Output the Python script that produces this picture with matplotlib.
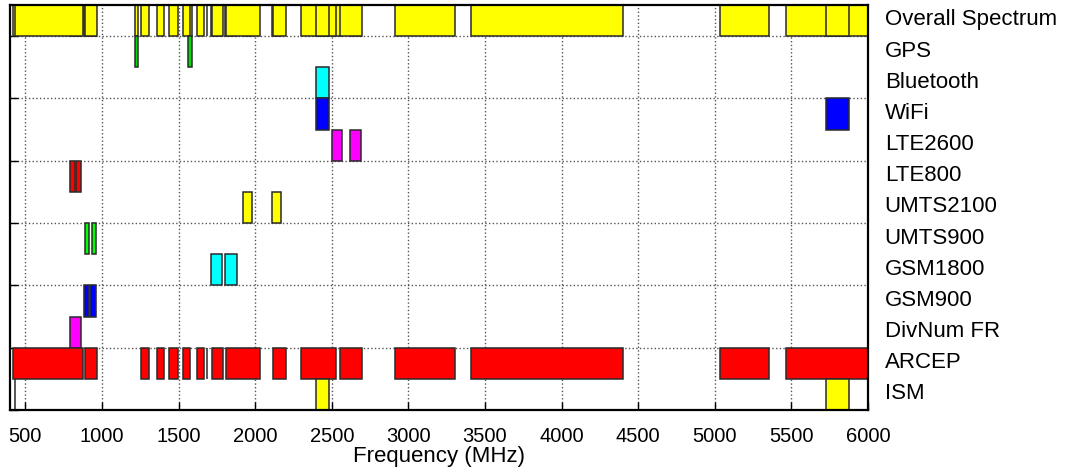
import matplotlib
matplotlib.use("Agg")
import matplotlib.pyplot as plt

plt.rcParams['font.family'] = ['Liberation Sans', 'DejaVu Sans']

# Rows from top to bottom
rows = ["Overall Spectrum", "GPS", "Bluetooth", "WiFi", "LTE2600", "LTE800",
        "UMTS2100", "UMTS900", "GSM1800", "GSM900", "DivNum FR", "ARCEP", "ISM"]

# Bands in MHz (start, stop)
gps = [(1217, 1237), (1565, 1585)]
bluetooth = [(2400, 2483.5)]
wifi = [(2400, 2483.5), (5725, 5875)]
lte2600 = [(2500, 2570), (2620, 2690)]
lte800 = [(791, 821), (832, 862)]
umts2100 = [(1920, 1980), (2110, 2170)]
umts900 = [(890, 915), (935, 960)]
gsm1800 = [(1710, 1785), (1805, 1880)]
gsm900 = [(880, 915), (925, 960)]
divnum = [(790, 862)]
arcep = [(420, 878), (891, 965), (1252, 1304), (1362, 1405), (1441, 1498),
         (1527, 1572), (1619, 1665), (1683, 1689), (1721, 1791), (1807, 2031),
         (2119, 2203), (2299, 2525), (2557, 2696), (2910, 3307), (3410, 4402),
         (5036, 5354), (5466, 6100)]
ism = [(433.05, 434.79), (2400, 2483.5), (5725, 5875)]

row_bands = {
    "GPS": (gps, "#00dd00"),
    "Bluetooth": (bluetooth, "cyan"),
    "WiFi": (wifi, "blue"),
    "LTE2600": (lte2600, "magenta"),
    "LTE800": (lte800, "red"),
    "UMTS2100": (umts2100, "yellow"),
    "UMTS900": (umts900, "lime"),
    "GSM1800": (gsm1800, "cyan"),
    "GSM900": (gsm900, "blue"),
    "DivNum FR": (divnum, "magenta"),
    "ARCEP": (arcep, "red"),
    "ISM": (ism, "yellow"),
}

xticks = list(range(500, 6001, 500))

fig = plt.figure(figsize=(10.65, 4.68), dpi=100)
ax = fig.add_axes([10 / 1065, 58 / 468, 858 / 1065, 405 / 468])

n = len(rows)
edge = "#2a2a2a"


def draw_row(y, bands, color):
    starts = [b[0] for b in bands]
    widths = [b[1] - b[0] for b in bands]
    ax.barh([y] * len(bands), widths, left=starts, height=1, align="edge",
            color=color, edgecolor=edge, linewidth=1.1, zorder=3)


# Overall spectrum: every band of every row, in yellow
top_y = n - 1
for name, (bands, color) in row_bands.items():
    draw_row(top_y, bands, "yellow")

for name, (bands, color) in row_bands.items():
    y = n - 1 - rows.index(name)
    draw_row(y, bands, color)

ax.set_xlim(400, 6000)
ax.set_ylim(0, n)
ax.set_xticks(xticks)
ax.set_yticks(range(0, n, 2))
ax.set_yticklabels([])
ax.tick_params(axis="both", direction="in", length=6, width=1, labelsize=14.5)
ax.tick_params(axis="x", pad=12)
ax.grid(True, linestyle=":", color="#555555", linewidth=1)
ax.set_axisbelow(True)
for sp in ax.spines.values():
    sp.set_linewidth(1.6)
    sp.set_color("black")
    sp.set_zorder(5)
ax.set_xlabel("Frequency (MHz)", fontsize=16, labelpad=0)

# row labels on the right
ax2 = ax.twinx()
ax2.set_ylim(0, n)
ax2.set_yticks([n - 1 - i + 0.6 for i in range(n)])
ax2.set_yticklabels(rows, fontsize=16)
ax2.tick_params(axis="y", length=0, pad=12)
for sp in ax2.spines.values():
    sp.set_visible(False)

fig.savefig("out.png", dpi=100)
